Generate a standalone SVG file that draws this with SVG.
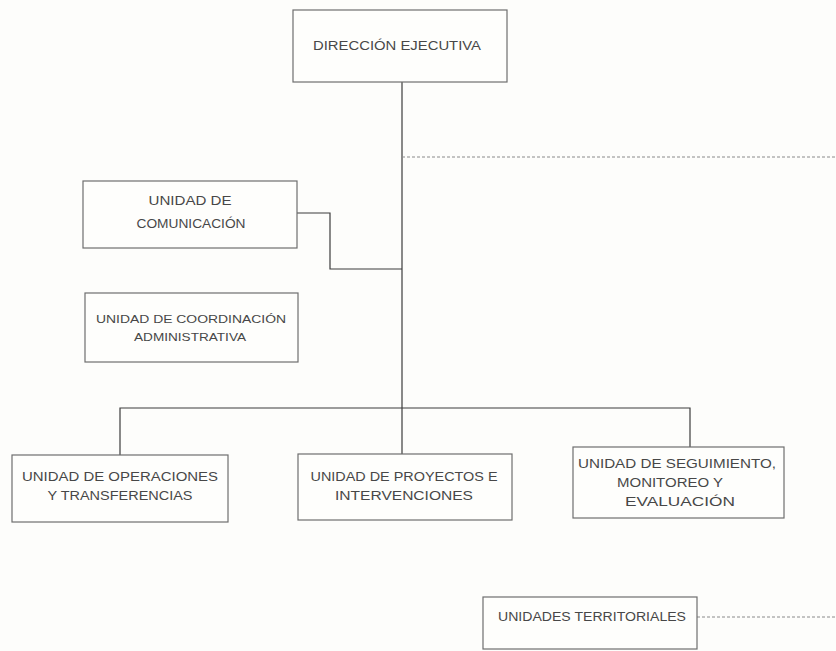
<svg xmlns="http://www.w3.org/2000/svg" width="836" height="651" viewBox="0 0 836 651">
<style>
.bg{fill:#fdfdfb}
.box{fill:#fefefc;stroke:#6e6e6e;stroke-width:1.2}
.ln{fill:none;stroke:#3c3c3c;stroke-width:1.2}
.dash{fill:none;stroke:#8a8a8a;stroke-width:1;stroke-dasharray:3 2}
text{font-family:"Liberation Sans",Arial,sans-serif;font-size:12.5px;fill:#474747;text-anchor:middle;dominant-baseline:central}
</style>
<rect class="bg" x="0" y="0" width="836" height="651"/>
<g id="connectors">
<path class="ln" d="M402,82 V408"/>
<path class="dash" d="M402,157 H836"/>
<path class="ln" d="M297,213 H330 V269 H402"/>
<path class="ln" d="M120,455 V408 H690 V447"/>
<path class="ln" d="M402,408 V454"/>
<path class="dash" d="M697,617 H836"/>
</g>
<g id="direccion">
<rect class="box" x="293" y="10" width="214" height="72"/>
<text x="397" y="46" textLength="168" lengthAdjust="spacingAndGlyphs">DIRECCIÓN EJECUTIVA</text>
</g>
<g id="comunicacion">
<rect class="box" x="83" y="181" width="214" height="67"/>
<text x="190" y="201" textLength="83" lengthAdjust="spacingAndGlyphs">UNIDAD DE</text>
<text x="191" y="224" textLength="109" lengthAdjust="spacingAndGlyphs">COMUNICACIÓN</text>
</g>
<g id="coordinacion">
<rect class="box" x="85" y="293" width="213" height="69"/>
<text x="191" y="319" textLength="190" lengthAdjust="spacingAndGlyphs" style="font-size:11px">UNIDAD DE COORDINACIÓN</text>
<text x="190" y="337" textLength="112" lengthAdjust="spacingAndGlyphs" style="font-size:11px">ADMINISTRATIVA</text>
</g>
<g id="operaciones">
<rect class="box" x="12" y="455" width="216" height="67"/>
<text x="120" y="477" textLength="196" lengthAdjust="spacingAndGlyphs">UNIDAD DE OPERACIONES</text>
<text x="120" y="496" textLength="145" lengthAdjust="spacingAndGlyphs">Y TRANSFERENCIAS</text>
</g>
<g id="proyectos">
<rect class="box" x="298" y="454" width="214" height="66"/>
<text x="404" y="477" textLength="187" lengthAdjust="spacingAndGlyphs">UNIDAD DE PROYECTOS E</text>
<text x="404" y="496" textLength="138" lengthAdjust="spacingAndGlyphs">INTERVENCIONES</text>
</g>
<g id="seguimiento">
<rect class="box" x="573" y="447" width="211" height="71"/>
<text x="677" y="464" textLength="198" lengthAdjust="spacingAndGlyphs">UNIDAD DE SEGUIMIENTO,</text>
<text x="670" y="483" textLength="106" lengthAdjust="spacingAndGlyphs">MONITOREO Y</text>
<text x="680" y="502" textLength="110" lengthAdjust="spacingAndGlyphs">EVALUACIÓN</text>
</g>
<g id="territoriales">
<rect class="box" x="483" y="597" width="214" height="52"/>
<text x="592" y="617" textLength="188" lengthAdjust="spacingAndGlyphs">UNIDADES TERRITORIALES</text>
</g>
</svg>
